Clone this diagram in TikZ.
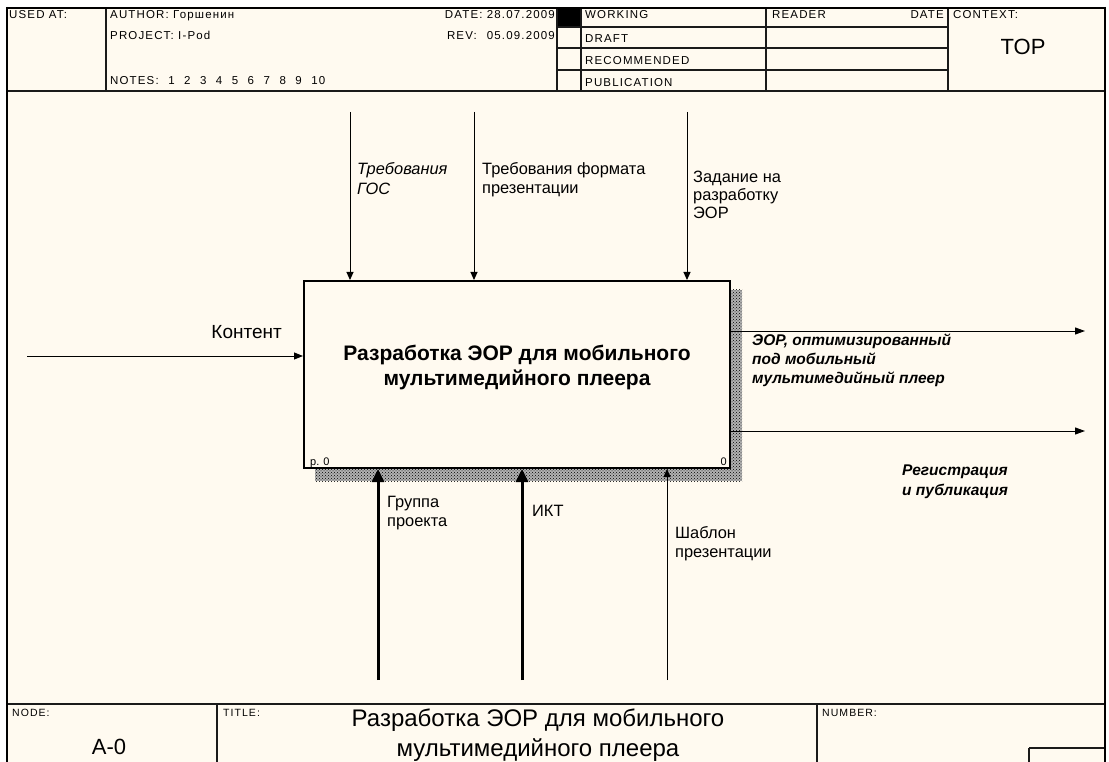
\documentclass[tikz,border=0pt]{standalone}
\usepackage{fontspec}
\setmainfont{Liberation Sans}
\newfontfamily\hdrfont[LetterSpace=10]{Liberation Sans}
\usetikzlibrary{arrows.meta,positioning,patterns}
\definecolor{idefpaper}{HTML}{FFFAF0}
\definecolor{idefline}{HTML}{1A1A1A}
\tikzset{
  hdr/.style={anchor=north west,inner sep=0pt,font=\hdrfont\fontsize{11.5}{13}\selectfont},
  ideflabel/.style={anchor=north west,inner sep=0pt,align=left,
    font=\fontsize{16.4}{19}\selectfont},
  idefbox/.style={draw,line width=2pt,minimum width=426pt,minimum height=187pt,
    inner sep=0pt},
  idefflow/.style={-{Triangle[length=8pt,width=7pt]},line width=1pt},
  idefout/.style={-{Triangle[length=10pt,width=7pt]},line width=1pt},
  idefmech/.style={-{Triangle[length=13pt,width=12pt]},line width=3pt},
  frameline/.style={line width=1.3pt,draw=idefline},
  idefshadow/.style={fill=black!30,postaction={pattern=crosshatch dots,pattern color=black}},
}

\begin{document}
\begin{tikzpicture}[x=1pt,y=-1pt]
\useasboundingbox (0,0) rectangle (1109,762);
\fill[idefpaper] (7,8) rectangle (1105,762);
% header texts
\node[hdr] (usedat) at (9,10) {USED AT:};
\node[hdr] (author) at (110,10) {AUTHOR: Горшенин};
\node[hdr] (project) at (110,31) {PROJECT: I-Pod};
\node[hdr] (notes) at (110,76) {\spaceskip=9.5pt NOTES: 1 2 3 4 5 6 7 8 9 10};
\node[hdr,anchor=north east] (date) at (555,10) {DATE: 28.07.2009};
\node[hdr,anchor=north east] (rev) at (555,31) {REV:\hspace{10pt}05.09.2009};
\fill[black] (557,8) rectangle (581,27);
\node[hdr] (working) at (585,10) {WORKING};
\node[hdr] (draft) at (585,34) {DRAFT};
\node[hdr] (recom) at (585,56) {RECOMMENDED};
\node[hdr] (public) at (585,78) {PUBLICATION};
\node[hdr] (reader) at (772,10) {READER};
\node[hdr,anchor=north east] (rdate) at (944,10) {DATE};
\node[hdr] (context) at (953,10) {CONTEXT:};
\node[font=\fontsize{22}{24}\selectfont] (top) at (1023,47) {TOP};
% header grid
\draw[frameline] (7,91) -- (1105,91);
\draw[frameline] (106,8) -- (106,91);
\draw[frameline] (557,8) -- (557,91);
\draw[frameline] (581,8) -- (581,91);
\draw[frameline] (766,8) -- (766,91);
\draw[frameline] (948,8) -- (948,91);
\foreach \yy in {27,48,70}
  \draw[frameline] (557,\yy) -- (948,\yy);
% footer
\draw[frameline] (7,704) -- (1105,704);
\draw[frameline] (217,704) -- (217,762);
\draw[frameline] (817,704) -- (817,762);
\draw[frameline] (1029,748) -- (1105,748);
\draw[frameline] (1029,748) -- (1029,762);
\node[hdr,font=\hdrfont\fontsize{10.5}{12}\selectfont] (nodelbl) at (12,709) {NODE:};
\node[hdr,font=\hdrfont\fontsize{10.5}{12}\selectfont] (titlelbl) at (223,709) {TITLE:};
\node[hdr,font=\hdrfont\fontsize{10.5}{12}\selectfont] (numlbl) at (822,709) {NUMBER:};
\node[font=\fontsize{22}{24}\selectfont] (nodeid) at (109,747) {A-0};
\node[align=center,font=\fontsize{24}{30}\selectfont] (title) at (538,735)
  {Разработка ЭОР для мобильного\\мультимедийного плеера};
% outer frame
\draw[line width=2.5pt] (7,8) -- (1105,8);
\draw[line width=2pt] (7,7) -- (7,762);
\draw[line width=2pt] (1105,7) -- (1105,762);
% activity box with shadow
\path[idefshadow] (731,290) rectangle (742,481);
\path[idefshadow] (315,469) rectangle (731,481);
\node[idefbox,fill=idefpaper] (proc) at (517,374.5) {};
\node[align=center,font=\bfseries\fontsize{21}{25}\selectfont] (proctitle) at (517,367)
  {Разработка ЭОР для мобильного\\мультимедийного плеера};
\node[anchor=base west,inner sep=0pt,font=\fontsize{11}{12}\selectfont] (pnum) at (310,465) {p. 0};
\node[anchor=base east,inner sep=0pt,font=\fontsize{11}{12}\selectfont] (bnum) at (727,465) {0};
% controls
\coordinate (ctl1) at (350,112);
\coordinate (ctl2) at (474,112);
\coordinate (ctl3) at (687,112);
\draw[idefflow] (ctl1) -- (ctl1 |- proc.north);
\draw[idefflow] (ctl2) -- (ctl2 |- proc.north);
\draw[idefflow] (ctl3) -- (ctl3 |- proc.north);
\node[ideflabel,font=\itshape\fontsize{16.4}{20}\selectfont] (ctl1lbl) at (357,162) {Требования\\ГОС};
\node[ideflabel] (ctl2lbl) at (482,162) {Требования формата\\презентации};
\node[ideflabel,font=\fontsize{16.4}{18}\selectfont] (ctl3lbl) at (693,171) {Задание на\\разработку\\ЭОР};
% input
\coordinate (in1) at (27,356);
\draw[idefflow,-{Triangle[length=9pt,width=7pt]}] (in1) -- (in1 -| proc.west);
\node[anchor=north east,inner sep=0pt,font=\fontsize{19}{21}\selectfont] (in1lbl) at (282,325) {Контент};
% outputs
\coordinate (out1) at (1085,331);
\coordinate (out2) at (1085,431);
\draw[idefout] (out1 -| proc.east) -- (out1);
\draw[idefout] (out2 -| proc.east) -- (out2);
\node[ideflabel,font=\bfseries\itshape\fontsize{15.5}{19}\selectfont] (out1lbl) at (752,334)
  {ЭОР, оптимизированный\\под мобильный\\мультимедийный плеер};
\node[ideflabel,font=\bfseries\itshape\fontsize{15.5}{20}\selectfont] (out2lbl) at (902,465)
  {Регистрация\\и публикация};
% mechanisms
\coordinate (mech1) at (378,680);
\coordinate (mech2) at (522,680);
\coordinate (mech3) at (667,680);
\draw[idefmech] (mech1) -- (mech1 |- proc.south);
\draw[idefmech] (mech2) -- (mech2 |- proc.south);
\draw[idefflow] (mech3) -- (mech3 |- proc.south);
\node[ideflabel] (mech1lbl) at (387,496) {Группа\\проекта};
\node[ideflabel] (mech2lbl) at (532,505) {ИКТ};
\node[ideflabel] (mech3lbl) at (675,526) {Шаблон\\презентации};
\end{tikzpicture}
\end{document}
